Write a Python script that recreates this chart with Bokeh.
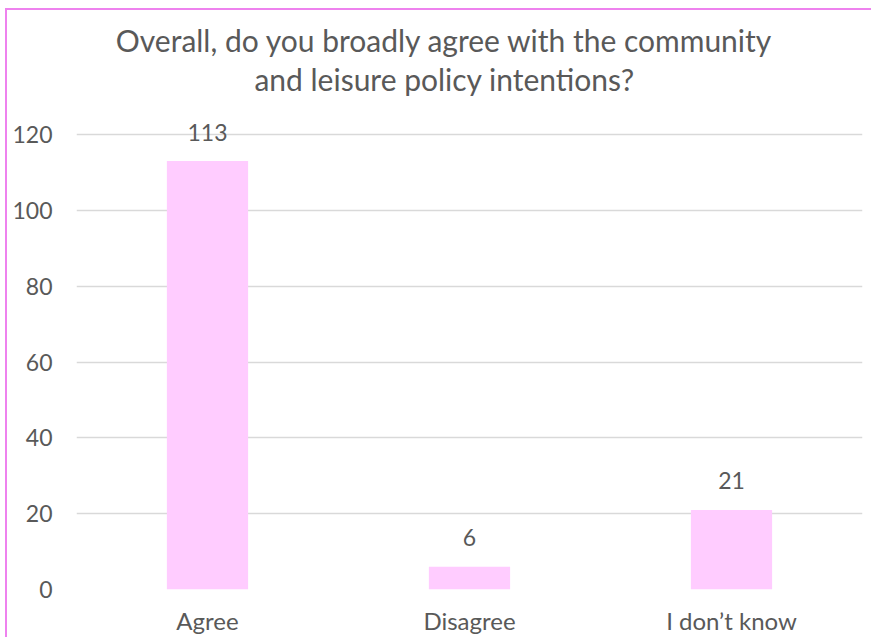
from bokeh.plotting import figure
from bokeh.models import ColumnDataSource, FixedTicker, Range1d, FactorRange
from bokeh.core.properties import value
from bokeh.embed import file_html
from bokeh.resources import INLINE

# ---- data ----
categories = ["Agree", "Disagree", "I don\u2019t know"]
counts = [113, 6, 21]
y_ticks = [0, 20, 40, 60, 80, 100, 120]
title_lines = ["Overall, do you broadly agree with the community",
               "and leisure policy intentions?"]

FONT = "Lato"
TEXT = "#595959"
BAR = "#FFCCFF"
GRID = "#D9D9D9"
BORDER = "#EE82EE"

# layout (canvas starts at window x=7, y=10)
frame_top_win, y120_win, y0_win = 10, 134, 589
px_per_unit = (y0_win - y120_win) / 120.0
y_end = 120 + (y120_win - frame_top_win) / px_per_unit

p = figure(width=866, height=629, title=None,
           x_range=FactorRange(*categories), y_range=Range1d(0, y_end),
           output_backend="svg", toolbar_location=None,
           min_border_left=69, min_border_right=11,
           min_border_top=0, min_border_bottom=50)
p.styles = {"margin-left": "5px", "margin-top": "8px",
            "border-top": f"2px solid {BORDER}",
            "border-left": f"2px solid {BORDER}"}
p.background_fill_color = "white"
p.border_fill_color = "white"
p.outline_line_color = None

src = ColumnDataSource(dict(cat=categories, count=counts,
                            label=[str(c) for c in counts]))
p.vbar(x="cat", top="count", width=0.31, source=src,
       fill_color=BAR, line_color=None)
p.text(x="cat", y="count", text="label", source=src,
       text_align="center", text_baseline="middle", y_offset=-29,
       text_font=value(FONT), text_font_size="23px", text_color=TEXT)

# title as two centered lines
title_x = 1.405
title_y = [(y0_win - 39) / px_per_unit, (y0_win - 78) / px_per_unit]
p.text(x=[title_x, title_x], y=title_y, text=title_lines,
       text_align="center", text_baseline="middle",
       text_font=value(FONT), text_font_size="30px", text_color=TEXT)

for ax in (p.xaxis, p.yaxis):
    ax.axis_line_color = None
    ax.major_tick_line_color = None
    ax.minor_tick_line_color = None
    ax.major_tick_out = 0
    ax.major_tick_in = 0
    ax.minor_tick_out = 0
    ax.major_label_text_font = FONT
    ax.major_label_text_color = TEXT
p.yaxis.major_label_text_font_size = "23px"
p.xaxis.major_label_text_font_size = "24px"
p.yaxis.ticker = FixedTicker(ticks=y_ticks)
p.yaxis.major_label_standoff = 24
p.xaxis.major_label_standoff = 16

p.xgrid.grid_line_color = None
p.ygrid.grid_line_color = GRID
p.ygrid.grid_line_width = 1.5

open("out.html", "w").write(file_html(p, INLINE))
